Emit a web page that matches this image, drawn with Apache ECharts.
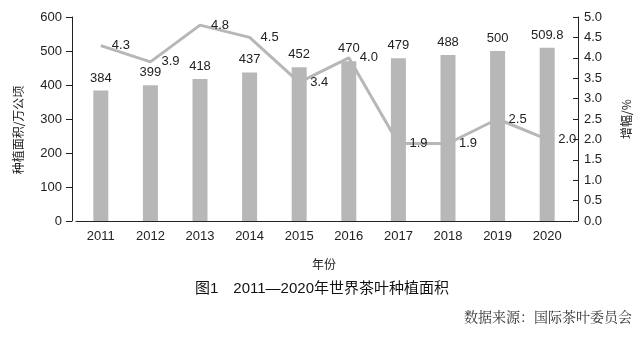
<!DOCTYPE html>
<html><head><meta charset="utf-8">
<script src="https://cdn.jsdelivr.net/npm/echarts@6/dist/echarts.min.js"></script>
<style>html,body{margin:0;padding:0;background:#fff}#c{width:644px;height:338px}</style>
</head><body><div id="c"></div>
<script>
var years = ['2011','2012','2013','2014','2015','2016','2017','2018','2019','2020'];
var areaValues = [384, 399, 418, 437, 452, 470, 479, 488, 500, 509.8];
var growthValues = [4.3, 3.9, 4.8, 4.5, 3.4, 4.0, 1.9, 1.9, 2.5, 2.0];
var titleText = '图1\u30002011\u20142020年世界茶叶种植面积';
var sourceText = '数据来源：国际茶叶委员会';

var chart = echarts.init(document.getElementById('c'), null, {renderer:'canvas'});
var numFont = 'Liberation Sans, Arial, sans-serif';
var cjkFont = '"Noto Sans CJK SC", sans-serif';
chart.setOption({
  animation: false,
  backgroundColor: '#fff',
  grid: {left: 76, right: 72, top: 17, bottom: 117},
  title: {
    text: titleText, left: 'center', top: 276,
    textStyle: {fontSize: 15, fontWeight: 'normal', color: '#111', fontFamily: '"Liberation Sans", "Noto Sans CJK SC", sans-serif'}
  },
  graphic: [{
    type: 'text', right: 12, top: 310,
    style: {text: sourceText, fontSize: 14, fill: '#333', fontFamily: '"Noto Serif CJK SC", "Noto Sans CJK SC", serif'}
  }],
  xAxis: {
    type: 'category', data: years, boundaryGap: true,
    name: '年份', nameLocation: 'middle', nameGap: 37,
    nameTextStyle: {fontSize: 12, color: '#222', fontFamily: cjkFont},
    axisLine: {show: true, lineStyle: {color: '#222', width: 1}},
    axisTick: {show: false},
    axisLabel: {fontSize: 13, color: '#222', fontFamily: numFont, margin: 9}
  },
  yAxis: [{
    type: 'value', min: 0, max: 600, interval: 100, position: 'left', offset: 4,
    name: '种植面积/万公顷', nameLocation: 'middle', nameGap: 48, nameRotate: 90,
    nameTextStyle: {fontSize: 12, color: '#222', fontFamily: cjkFont, padding: [0, 0, 0, -22]},
    axisLine: {show: true, lineStyle: {color: '#222', width: 1}},
    axisTick: {show: true, length: 6, lineStyle: {color: '#222'}},
    splitLine: {show: false},
    axisLabel: {fontSize: 13, color: '#222', fontFamily: numFont, margin: 10}
  }, {
    type: 'value', min: 0, max: 5, interval: 0.5, position: 'right', offset: 6,
    name: '增幅/%', nameLocation: 'middle', nameGap: 42, nameRotate: 90,
    nameTextStyle: {fontSize: 12, color: '#222', fontFamily: cjkFont},
    axisLine: {show: true, lineStyle: {color: '#222', width: 1}},
    axisTick: {show: true, inside: true, length: 5, lineStyle: {color: '#222'}},
    splitLine: {show: false},
    axisLabel: {fontSize: 13, color: '#222', fontFamily: numFont, margin: 6,
      formatter: function (v) { return v.toFixed(1); }}
  }],
  series: [{
    type: 'bar', data: areaValues, yAxisIndex: 0, barWidth: 15,
    itemStyle: {color: '#b7b7b7'},
    label: {show: true, position: 'top', distance: 6, fontSize: 13, color: '#222', fontFamily: numFont}
  }, {
    type: 'line', data: growthValues, yAxisIndex: 1,
    symbol: 'circle', symbolSize: 2, showSymbol: true,
    itemStyle: {color: 'rgba(183,183,183,0)'},
    lineStyle: {color: '#b7b7b7', width: 3},
    label: {show: true, position: 'right', distance: 10, fontSize: 13, color: '#222', fontFamily: numFont,
      formatter: function (p) { return Number(p.value).toFixed(1); }}
  }]
});
</script></body></html>
